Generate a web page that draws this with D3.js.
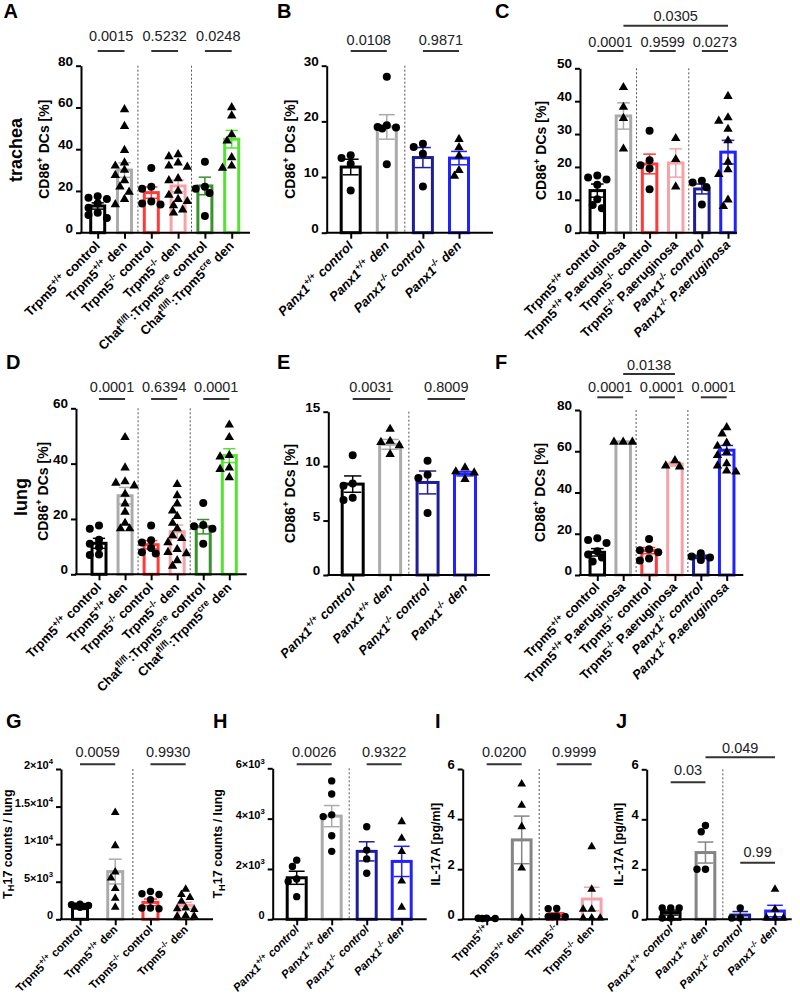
<!DOCTYPE html>
<html><head><meta charset="utf-8">
<script src="https://cdn.jsdelivr.net/npm/d3@7"></script>
<style>
body{margin:0;background:#fff}
svg{display:block}
text{font-family:"Liberation Sans",Arial,Helvetica,sans-serif}
</style>
</head><body>
<svg id="fig" width="800" height="997"></svg>
<script>
// ===================== DATA =====================
// Panel A – trachea, Trpm5 / Chat-Trpm5cre, CD86+ DCs [%]
const catsA = ["Trpm5^{+/+} control","Trpm5^{+/+} den","Trpm5^{-/-} control","Trpm5^{-/-} den","Chat^{fl/fl}:Trpm5^{cre} control","Chat^{fl/fl}:Trpm5^{cre} den"];
const meanA = [12.8, 30.0, 19.2, 22.4, 22.4, 44.8];
const semA  = [1.5, 3.5, 2.7, 2.8, 4.2, 4.2];
const ptsA  = [[17.5,16.8,16.2,14,12,9.5,8.5,7],[59,51,39.5,33.5,32,30,27.5,25,22,19.5,16,13.5],[31,22,21,15,14,13.5],[37.5,36.5,33.5,32,31.5,26,25,20,18,16,15,13,11,9.5],[34,22,21,19,8],[60,56,47,44,36,32,31]];
const shpA  = ["c","t","c","t","c","t"];
const pA    = ["0.0015","0.5232","0.0248"];
const prA   = [[0,1],[2,3],[4,5]];
const ticksA = [0,20,40,60,80];

// Panel B – trachea, Panx1
const catsB = ["Panx1^{+/+} control","Panx1^{+/+} den","Panx1^{-/-} control","Panx1^{-/-} den"];
const meanB = [11.8, 19.0, 13.5, 13.4];
const semB  = [1.4, 2.2, 1.8, 1.2];
const ptsB  = [[13.9,13.4,12.4,7.6],[28,19.3,19.0,18.9,18.7,12.3],[16,15.4,14.2,8.3],[16.8,15.3,13.8,11.2,10.2]];
const shpB  = ["c","c","c","t"];
const pB    = ["0.0108","0.9871"];
const ticksB = [0,10,20,30];

// Panel C – trachea, P. aeruginosa
const catsC = ["Trpm5^{+/+} control","Trpm5^{+/+} P.aeruginosa","Trpm5^{-/-} control","Trpm5^{-/-} P.aeruginosa","Panx1^{-/-} control","Panx1^{-/-} P.aeruginosa"];
const meanC = [12.8, 35.5, 20.9, 21.2, 13.3, 24.5];
const semC  = [2.0, 4.0, 3.0, 4.3, 1.5, 3.6];
const ptsC  = [[17.4,16.8,16.2,14.6,10.2,8.4,7.4],[44.2,38.2,34.8,25.5],[31,22,20.5,19.5,13.2],[28.7,22.3,14],[15.8,15.3,13.8,8.6],[41.5,35,34,31.5,28,21.5,19.2,17.8,10,8]];
const shpC  = ["c","t","c","t","c","t"];
const pC    = ["0.0001","0.9599","0.0273","0.0305"];
const prC   = [[0,1],[2,3],[4,5],[1,5]];
const lvC   = [0,0,0,1];
const ticksC = [0,10,20,30,40,50];

// Panel D – lung, Trpm5 / Chat
const meanD = [11.2, 28.4, 10.7, 15.4, 17.2, 42.9];
const semD  = [1.8, 3.0, 1.5, 2.4, 2.6, 2.5];
const ptsD  = [[17.6,16.5,12.5,11,9.8,7.2,7],[49.5,38.5,33.5,33,32,29,25.5,22.5,18.5,16.5,16.5],[17.6,12.3,11.5,9.5,8,7.5],[32.5,28.5,25.5,23,21,18.5,16.5,14,13,11.5,9,8,7.5,5,3],[25.8,17.8,17.4,16.5,11],[54,49.5,43,42.5,38.5,38,35]];
const pD    = ["0.0001","0.6394","0.0001"];
const ticksD = [0,20,40,60];

// Panel E – lung, Panx1
const meanE = [8.35, 12.0, 8.5, 9.3];
const semE  = [0.75, 0.45, 1.05, 0.2];
const ptsE  = [[11,8.4,8.2,7.1,6.9],[13.4,12.3,12.2,11.9,11.1],[10.5,9.2,8.9,5.7],[9.85,9.5,9.4,8.8]];
const shpE  = ["c","t","c","t"];
const pE    = ["0.0031","0.8009"];
const ticksE = [0,5,10,15];

// Panel F – lung, P. aeruginosa
const meanF = [11.0, 64.5, 11.8, 53.8, 8.8, 60.5];
const semF  = [1.8, 0.3, 1.5, 1.0, 0.8, 2.3];
const ptsF  = [[17.8,17,15.5,11.5,10,8.5,6.5],[64.5,64.5,64.5],[17.5,12.5,12,11,8,7],[55.5,53,52.5],[10.5,9,8.5,7.3],[71.5,68.5,64,62.5,59.5,58,54,53,50,50.5]];
const pF    = ["0.0001","0.0001","0.0001","0.0138"];
const prF   = [[0,1],[2,3],[4,5],[1,3]];
const lvF   = [0,0,0,1];
const ticksF = [0,20,40,60,80];

// Panel G – TH17 counts / lung, Trpm5
const catsG = ["Trpm5^{+/+} control","Trpm5^{+/+} den","Trpm5^{-/-} control","Trpm5^{-/-} den"];
const meanG = [1800, 6350, 2250, 1850];
const semG  = [100, 1650, 450, 400];
const ptsG  = [[2000,1950,1850,1750,1700,1600],[14200,9800,6300,5500,4100,2800,1600],[3700,3400,3300,2600,1500,1500,1400],[4000,3300,2900,2400,1500,1400,1300,500,400,400]];
const pG    = ["0.0059","0.9930"];
const ticksG = [0,5000,10000,15000,20000];
const tickLabG = ["0","5×10^{3}","1×10^{4}","1.5×10^{4}","2×10^{4}"];

// Panel H – TH17 counts / lung, Panx1
const meanH = [1650, 4100, 2700, 2300];
const semH  = [260, 420, 380, 600];
const ptsH  = [[2350,2100,1600,1500,900],[5500,4980,4150,4080,3320,2700],[3680,2750,2400,1830],[3880,3220,2690,1520,480]];
const pH    = ["0.0026","0.9322"];
const ticksH = [0,2000,4000,6000];
const tickLabH = ["0","2×10^{3}","4×10^{3}","6×10^{3}"];

// Panel I – IL-17A, Trpm5
const catsI = ["Trpm5^{+/+}","Trpm5^{+/+} den","Trpm5^{-/-}","Trpm5^{-/-} den"];
const meanI = [0.03, 3.17, 0.18, 0.81];
const semI  = [0.01, 0.95, 0.08, 0.47];
const ptsI  = [[0.03,0.03,0.04,0.04],[5.4,4.55,3.7,2.05,0.05],[0.43,0.42,0.12,0.1,0.1,0.1],[2.9,1.2,0.4,0.4,0.05,0.05,0.05]];
const pI    = ["0.0200","0.9999"];
const ticksI = [0,2,4,6];

// Panel J – IL-17A, Panx1
const meanJ = [0.27, 2.67, 0.17, 0.33];
const semJ  = [0.1, 0.42, 0.14, 0.23];
const ptsJ  = [[0.45,0.45,0.45,0.05,0.05],[3.75,3.5,2.0,2.0],[0.45,0.05,0.05],[1.2,0.4,0.05,0.05,0.05]];
const pJ    = ["0.03","0.049","0.99"];
const prJ   = [[0,1],[1,3],[2,3]];
const lvJ   = [0,1,2];
const ticksJ = [0,2,4,6];

// ===================== STYLE =====================
const BLACK="#000000", GRAY="#ababab", DGRAY="#858585", RED="#ff3a3a", PINK="#f5a3a8",
      DGREEN="#3a922e", GREEN="#55e233", NAVY="#1e1e9a", BLUE="#2222ff";
const svg = d3.select("#fig");

function rich(sel, str, fs) {
  const parts = str.split(/(\^\{[^}]*\}|_\{[^}]*\})/).filter(s => s.length);
  let cur = 0;
  parts.forEach(p => {
    let t = p, target = 0, size = fs;
    if (p.startsWith("^{")) { t = p.slice(2,-1); target = -fs*0.42; size = fs*0.7; }
    else if (p.startsWith("_{")) { t = p.slice(2,-1); target = fs*0.22; size = fs*0.75; }
    sel.append("tspan").attr("dy", target - cur).attr("font-size", size).text(t);
    cur = target;
  });
}

function swarm(vals, y, bw, r) {
  const order = d3.range(vals.length).sort((a,b)=>vals[b]-vals[a]);
  const placed = [], out = new Array(vals.length);
  const step = r*1.15, minD = r*1.75, maxOff = bw/2 + r*0.3;
  order.forEach(i => {
    const py = y(vals[i]);
    let best = null, bestScore = -1;
    for (let k=0;k<14;k++){
      const off = (k%2 ? -1 : 1) * Math.ceil(k/2) * step;
      if (Math.abs(off) > maxOff) continue;
      let md = Infinity;
      placed.forEach(p => { md = Math.min(md, Math.hypot(p[0]-off, p[1]-py)); });
      if (md >= minD) { best = off; break; }
      if (md > bestScore) { bestScore = md; best = off; }
    }
    placed.push([best, py]);
    out[i] = best;
  });
  return out;
}

function panel(c) {
  const g = svg.append("g");
  const n = c.mean.length;
  const x = d3.scalePoint().domain(d3.range(n)).range([c.c0, c.c1]);
  const y = d3.scaleLinear().domain([0, c.ymax]).range([c.bottom, c.top]);

  c.seps.forEach(s => {
    const xs = (x(s) + x(s+1)) / 2;
    g.append("line").attr("x1", xs).attr("x2", xs).attr("y1", c.top).attr("y2", c.bottom)
      .attr("stroke", "#555").attr("stroke-width", 1).attr("stroke-dasharray", "2,2");
  });

  const sw = 3;
  g.selectAll(".bar").data(c.mean).join("rect")
    .attr("x", (d,i) => x(i) - c.bw/2 + sw/2)
    .attr("width", c.bw - sw)
    .attr("y", d => y(d))
    .attr("height", d => c.bottom - y(d))
    .attr("fill", "none")
    .attr("stroke", (d,i) => c.colors[i]).attr("stroke-width", sw);

  const cap = c.bw * 0.36;
  c.mean.forEach((m,i) => {
    const lo = y(Math.max(0, m - c.sem[i])), hi = y(m + c.sem[i]), cx = x(i);
    const col = c.colors[i];
    g.append("line").attr("x1",cx).attr("x2",cx).attr("y1",lo).attr("y2",hi).attr("stroke",col).attr("stroke-width",1.5);
    g.append("line").attr("x1",cx-cap).attr("x2",cx+cap).attr("y1",hi).attr("y2",hi).attr("stroke",col).attr("stroke-width",1.5);
    g.append("line").attr("x1",cx-cap).attr("x2",cx+cap).attr("y1",lo).attr("y2",lo).attr("stroke",col).attr("stroke-width",1.5);
  });

  const r = c.r;
  const tri = d3.symbol().type(d3.symbolTriangle).size(r*r*2.4);
  c.pts.forEach((vals,i) => {
    const offs = swarm(vals, y, c.bw, r);
    vals.forEach((v,j) => {
      const px = x(i) + offs[j], py = y(v);
      if (c.shapes[i] === "t") {
        g.append("path").attr("d", tri()).attr("transform", `translate(${px},${py})`).attr("fill", "#000");
      } else {
        g.append("circle").attr("cx", px).attr("cy", py).attr("r", r).attr("fill", "#000");
      }
    });
  });

  const ya = g.append("g").attr("transform", `translate(${c.left},0)`)
    .call(d3.axisLeft(y).tickValues(c.ticks).tickSize(5).tickSizeOuter(0).tickPadding(3).tickFormat(""));
  ya.select(".domain").attr("stroke-width", 2);
  ya.selectAll(".tick line").attr("stroke-width", 2);
  c.ticks.forEach((t,k) => {
    const tx = g.append("text").attr("x", c.left - 8).attr("y", y(t)).attr("dy", "0.35em")
      .attr("text-anchor", "end").attr("font-weight", "bold").attr("font-size", c.tfs);
    rich(tx, c.tickLabels ? c.tickLabels[k] : String(t), c.tfs);
  });

  const xa = g.append("g").attr("transform", `translate(0,${c.bottom})`)
    .call(d3.axisBottom(x).tickSize(6).tickFormat(""));
  xa.select(".domain").remove();
  xa.selectAll(".tick line").attr("stroke-width", 2);
  g.append("line").attr("x1", c.left - 1).attr("x2", c.right).attr("y1", c.bottom).attr("y2", c.bottom)
    .attr("stroke", "#000").attr("stroke-width", 2);

  c.cats.forEach((lab,i) => {
    const tx = g.append("text")
      .attr("transform", `translate(${x(i)+c.lx},${c.bottom + c.ly}) rotate(-45)`)
      .attr("text-anchor", "end").attr("font-weight", "bold").attr("font-size", c.lfs)
      .attr("font-style", lab.startsWith("Panx1") ? "italic" : "normal");
    rich(tx, lab, c.lfs);
  });

  const yt = g.append("text").attr("transform", `translate(${c.ytx},${(c.top+c.bottom)/2}) rotate(-90)`)
    .attr("text-anchor", "middle").attr("dy", "0.35em").attr("font-weight", "bold").attr("font-size", c.yfs);
  rich(yt, c.ytitle, c.yfs);

  c.p.forEach((lab,k) => {
    const pr = c.pairs[k], lv = c.levels ? c.levels[k] : 0;
    const x1 = x(pr[0]), x2 = x(pr[1]);
    g.append("line").attr("x1", x1).attr("x2", x2).attr("y1", c.lineY[lv]).attr("y2", c.lineY[lv])
      .attr("stroke", "#333").attr("stroke-width", 2);
    g.append("text").attr("x", (x1+x2)/2).attr("y", c.textY[lv]).attr("text-anchor", "middle")
      .attr("font-size", 14.5).attr("fill", "#222").text(lab);
  });

  g.append("text").attr("x", c.lx0).attr("y", c.ly0).attr("font-weight", "bold").attr("font-size", 20).text(c.letter);
}

const colsTC = [BLACK, GRAY, RED, PINK, DGREEN, GREEN];
const colsPx = [BLACK, GRAY, NAVY, BLUE];
const colsPa = [BLACK, GRAY, RED, PINK, NAVY, BLUE];
const ytCD = "CD86^{+} DCs [%]";
const pr2 = [[0,1],[2,3],[4,5]];

panel({letter:"A", lx0:3.5, ly0:17.5, cats:catsA, mean:meanA, sem:semA, pts:ptsA, shapes:shpA, colors:colsTC,
  left:81, right:250, top:65.7, bottom:232.7, c0:97.7, c1:231.7, ymax:80, ticks:ticksA, bw:17, seps:[1,3],
  p:pA, pairs:prA, lineY:[51], textY:[40.7], ytitle:ytCD, ytx:49, yfs:14, tfs:13.5, lfs:13, lx:3, ly:14, r:4});
panel({letter:"B", lx0:277, ly0:17.5, cats:catsB, mean:meanB, sem:semB, pts:ptsB, shapes:shpB, colors:colsPx,
  left:326.7, right:493, top:65.7, bottom:232.7, c0:350.7, c1:459, ymax:30, ticks:ticksB, bw:22, seps:[1],
  p:pB, pairs:pr2, lineY:[51], textY:[45], ytitle:ytCD, ytx:295, yfs:14, tfs:13.5, lfs:13, lx:3, ly:14, r:4});
panel({letter:"C", lx0:495, ly0:17.5, cats:catsC, mean:meanC, sem:semC, pts:ptsC, shapes:shpC, colors:colsPa,
  left:580, right:737, top:68.3, bottom:232.7, c0:597.3, c1:728, ymax:50, ticks:ticksC, bw:17.5, seps:[1,3],
  p:pC, pairs:prC, levels:lvC, lineY:[51,25.7], textY:[46.7,20.7], ytitle:ytCD, ytx:546, yfs:14, tfs:13.5, lfs:13, lx:3, ly:13, r:4});
panel({letter:"D", lx0:6, ly0:368.5, cats:catsA, mean:meanD, sem:semD, pts:ptsD, shapes:shpA, colors:colsTC,
  left:76, right:246.7, top:408.3, bottom:574.3, c0:99, c1:229.3, ymax:60, ticks:ticksD, bw:17, seps:[1,3],
  p:pD, pairs:pr2, lineY:[399], textY:[391.7], ytitle:ytCD, ytx:48, yfs:14, tfs:13.5, lfs:13, lx:3, ly:14, r:4});
panel({letter:"E", lx0:277, ly0:368.5, cats:catsB, mean:meanE, sem:semE, pts:ptsE, shapes:shpE, colors:colsPx,
  left:328.3, right:490, top:411.7, bottom:575, c0:352.7, c1:465, ymax:15, ticks:ticksE, bw:24, seps:[1],
  p:pE, pairs:pr2, lineY:[399], textY:[391.7], ytitle:ytCD, ytx:295, yfs:14, tfs:13.5, lfs:13, lx:3, ly:14, r:4});
panel({letter:"F", lx0:495, ly0:368.5, cats:catsC, mean:meanF, sem:semF, pts:ptsF, shapes:shpC, colors:colsPa,
  left:580, right:743.3, top:410, bottom:575, c0:597.3, c1:726.7, ymax:80, ticks:ticksF, bw:17.5, seps:[1,3],
  p:pF, pairs:prF, levels:lvF, lineY:[397.3,374], textY:[391.7,370], ytitle:ytCD, ytx:545, yfs:14, tfs:13.5, lfs:13, lx:3, ly:13, r:4});
panel({letter:"G", lx0:6, ly0:727.5, cats:catsG, mean:meanG, sem:semG, pts:ptsG, shapes:shpE, colors:[BLACK,GRAY,RED,PINK],
  left:61, right:213, top:769, bottom:919.3, c0:80, c1:185.7, ymax:20000, ticks:ticksG, tickLabels:tickLabG, bw:18, seps:[1],
  p:pG, pairs:pr2, lineY:[764.3], textY:[757], ytitle:"T_{H}17 counts / lung", ytx:11.5, yfs:12.5, tfs:11, lfs:11.5, lx:3, ly:11, r:3.7});
panel({letter:"H", lx0:213, ly0:727.5, cats:catsB, mean:meanH, sem:semH, pts:ptsH, shapes:shpB, colors:colsPx,
  left:272.7, right:426.7, top:768.3, bottom:919.3, c0:296.7, c1:401.7, ymax:6000, ticks:ticksH, tickLabels:tickLabH, bw:22, seps:[1],
  p:pH, pairs:pr2, lineY:[764.3], textY:[757], ytitle:"T_{H}17 counts / lung", ytx:222, yfs:12.5, tfs:11, lfs:11.5, lx:3, ly:11, r:3.7});
panel({letter:"I", lx0:435, ly0:727.5, cats:catsI, mean:meanI, sem:semI, pts:ptsI, shapes:shpE, colors:[BLACK,DGRAY,RED,PINK],
  left:462.7, right:608, top:769, bottom:919.3, c0:486.7, c1:591.7, ymax:6, ticks:ticksI, bw:21.7, seps:[1],
  p:pI, pairs:pr2, lineY:[764.3], textY:[757], ytitle:"IL-17A [pg/ml]", ytx:440, yfs:12.5, tfs:13, lfs:11.5, lx:3, ly:11, r:3.7});
panel({letter:"J", lx0:616, ly0:727.5, cats:catsB, mean:meanJ, sem:semJ, pts:ptsJ, shapes:shpB, colors:[BLACK,DGRAY,NAVY,BLUE],
  left:646.7, right:791.7, top:769.3, bottom:919.3, c0:670.7, c1:775, ymax:6, ticks:ticksJ, bw:21.7, seps:[1],
  p:pJ, pairs:prJ, levels:lvJ, lineY:[782.3,757.3,862.7], textY:[775,752.7,856.7], ytitle:"IL-17A [pg/ml]", ytx:623, yfs:12.5, tfs:13, lfs:11.5, lx:3, ly:11, r:3.7});

svg.append("text").attr("transform","translate(21.5,150) rotate(-90)").attr("text-anchor","middle")
  .attr("font-weight","bold").attr("font-size",18).text("trachea");
svg.append("text").attr("transform","translate(27,497) rotate(-90)").attr("text-anchor","middle")
  .attr("font-weight","bold").attr("font-size",18).text("lung");
</script>
</body></html>
